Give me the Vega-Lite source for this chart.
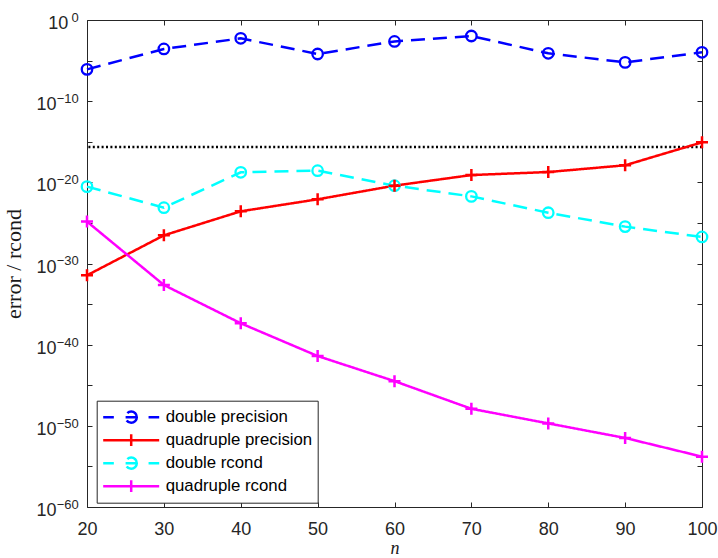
{
  "$schema": "https://vega.github.io/schema/vega-lite/v6.json",
  "width": 615,
  "height": 487,
  "autosize": {"type": "none"},
  "padding": {"left": 87, "top": 20, "right": 16, "bottom": 51},
  "background": "white",
  "config": {
    "view": {"stroke": "#262626", "strokeWidth": 1},
    "axis": {
      "domain": false,
      "grid": false,
      "labelFont": "Liberation Sans",
      "labelFontSize": 18,
      "labelColor": "#262626",
      "tickColor": "#262626",
      "tickSize": -5,
      "tickWidth": 1,
      "labelFlush": false,
      "labelOverlap": false,
      "labelBound": false
    }
  },
  "data": {
    "values": [
      {"n": 20, "series": "double precision", "value": 8.3e-7},
      {"n": 30, "series": "double precision", "value": 2.7e-4},
      {"n": 40, "series": "double precision", "value": 5.5e-3},
      {"n": 50, "series": "double precision", "value": 6.5e-5},
      {"n": 60, "series": "double precision", "value": 2.3e-3},
      {"n": 70, "series": "double precision", "value": 1.07e-2},
      {"n": 80, "series": "double precision", "value": 7.8e-5},
      {"n": 90, "series": "double precision", "value": 6.0e-6},
      {"n": 100, "series": "double precision", "value": 1.05e-4},
      {"n": 20, "series": "quadruple precision", "value": 3.5e-32},
      {"n": 30, "series": "quadruple precision", "value": 2.95e-27},
      {"n": 40, "series": "quadruple precision", "value": 2.7e-24},
      {"n": 50, "series": "quadruple precision", "value": 8.1e-23},
      {"n": 60, "series": "quadruple precision", "value": 3.9e-21},
      {"n": 70, "series": "quadruple precision", "value": 7.9e-20},
      {"n": 80, "series": "quadruple precision", "value": 1.86e-19},
      {"n": 90, "series": "quadruple precision", "value": 1.26e-18},
      {"n": 100, "series": "quadruple precision", "value": 8.5e-16},
      {"n": 20, "series": "double rcond", "value": 2.95e-21},
      {"n": 30, "series": "double rcond", "value": 7.6e-24},
      {"n": 40, "series": "double rcond", "value": 1.7e-19},
      {"n": 50, "series": "double rcond", "value": 2.75e-19},
      {"n": 60, "series": "double rcond", "value": 3.9e-21},
      {"n": 70, "series": "double rcond", "value": 1.86e-22},
      {"n": 80, "series": "double rcond", "value": 1.8e-24},
      {"n": 90, "series": "double rcond", "value": 3.5e-26},
      {"n": 100, "series": "double rcond", "value": 1.86e-27},
      {"n": 20, "series": "quadruple rcond", "value": 1.45e-25},
      {"n": 30, "series": "quadruple rcond", "value": 2.24e-33},
      {"n": 40, "series": "quadruple rcond", "value": 4.3e-38},
      {"n": 50, "series": "quadruple rcond", "value": 4.0e-42},
      {"n": 60, "series": "quadruple rcond", "value": 3.2e-45},
      {"n": 70, "series": "quadruple rcond", "value": 1.26e-48},
      {"n": 80, "series": "quadruple rcond", "value": 2.0e-50},
      {"n": 90, "series": "quadruple rcond", "value": 3.2e-52},
      {"n": 100, "series": "quadruple rcond", "value": 1.6e-54}
    ]
  },
  "layer": [
    {
      "data": {"values": [{"eps": 2.22e-16}]},
      "mark": {"type": "rule", "stroke": "black", "strokeWidth": 2.5, "strokeDash": [2, 2.4]},
      "encoding": {
        "y": {
          "field": "eps",
          "type": "quantitative",
          "scale": {"type": "log", "domain": [1e-60, 1], "nice": false},
          "axis": {
            "orient": "left",
            "values": [1, 1e-5, 1e-10, 1e-15, 1e-20, 1e-25, 1e-30, 1e-35, 1e-40, 1e-45, 1e-50, 1e-55, 1e-60],
            "labelExpr": "datum.value < 0.5 && abs(round(log(datum.value)/LN10)) % 10 == 0 ? '10' : ''",
            "labelAlign": "right",
            "labelPadding": 36,
            "labelOffset": 3.5,
            "title": "error / rcond",
            "titleFont": "Liberation Serif",
            "titleFontSize": 22,
            "titleFontWeight": "normal",
            "titleColor": "#1a1a1a",
            "titlePadding": 10
          }
        }
      }
    },
    {
      "mark": {"type": "line", "strokeWidth": 2.5},
      "encoding": {
        "x": {
          "field": "n",
          "type": "quantitative",
          "scale": {"domain": [20, 100], "nice": false, "zero": false},
          "axis": {
            "orient": "bottom",
            "values": [20, 30, 40, 50, 60, 70, 80, 90, 100],
            "format": "d",
            "labelPadding": 18.5,
            "title": "n",
            "titleFont": "Liberation Serif",
            "titleFontStyle": "italic",
            "titleFontWeight": "normal",
            "titleFontSize": 18,
            "titleColor": "#1a1a1a",
            "titleBaseline": "alphabetic",
            "titlePadding": 15
          }
        },
        "y": {
          "field": "value",
          "type": "quantitative",
          "scale": {"type": "log", "domain": [1e-60, 1], "nice": false},
          "axis": {
            "orient": "left",
            "ticks": false,
            "values": [1, 1e-10, 1e-20, 1e-30, 1e-40, 1e-50, 1e-60],
            "labelExpr": "datum.value > 0.5 ? '0' : '\u2212' + abs(round(log(datum.value)/LN10))",
            "labelFontSize": 13,
            "labelAlign": "right",
            "labelPadding": 8.7,
            "labelOffset": -2.6,
            "title": null
          }
        },
        "color": {
          "field": "series",
          "type": "nominal",
          "scale": {
            "domain": ["double precision", "quadruple precision", "double rcond", "quadruple rcond"],
            "range": ["#0000ff", "#ff0000", "#00ffff", "#ff00ff"]
          },
          "legend": {
            "orient": "none",
            "legendX": 9.7,
            "legendY": 380.7,
            "title": null,
            "strokeColor": "#262626",
            "fillColor": "white",
            "padding": 5,
            "labelFont": "Liberation Sans",
            "labelFontSize": 16.8,
            "labelColor": "black",
            "labelOffset": 5,
            "labelLimit": 300,
            "symbolSize": 3136,
            "symbolStrokeWidth": 2.5,
            "clipHeight": 23,
            "rowPadding": 0,
            "encode": {
              "symbols": {
                "update": {
                  "shape": {"signal": "indexof(datum.value, 'double') == 0 ? 'M-1,0H-0.62M0.62,0H1M-0.2,0H0.2M0.2,0A0.2,0.2 0 0,1 0,0.2A0.2,0.2 0 0,1 -0.2,0A0.2,0.2 0 0,1 0,-0.2A0.2,0.2 0 0,1 0.2,0Z' : 'M-1,0H1M0,-0.21V0.21'"},
                  "fill": {"value": "transparent"},
                  "strokeDash": {"value": [1, 0]}
                }
              }
            }
          }
        },
        "strokeDash": {
          "field": "series",
          "type": "nominal",
          "scale": {
            "domain": ["double precision", "quadruple precision", "double rcond", "quadruple rcond"],
            "range": [[14, 8], [1, 0], [14, 8], [1, 0]]
          },
          "legend": null
        }
      }
    },
    {
      "transform": [{"filter": "indexof(datum.series, 'double') == 0"}],
      "mark": {"type": "point", "shape": "circle", "filled": false, "size": 110, "strokeWidth": 2.3, "opacity": 1},
      "encoding": {
        "x": {
          "field": "n",
          "type": "quantitative",
          "scale": {"domain": [20, 100], "nice": false, "zero": false},
          "axis": {
            "orient": "top",
            "values": [20, 30, 40, 50, 60, 70, 80, 90, 100],
            "labels": false,
            "title": null
          }
        },
        "y": {
          "field": "value",
          "type": "quantitative",
          "scale": {"type": "log", "domain": [1e-60, 1], "nice": false},
          "axis": {
            "orient": "right",
            "values": [1, 1e-5, 1e-10, 1e-15, 1e-20, 1e-25, 1e-30, 1e-35, 1e-40, 1e-45, 1e-50, 1e-55, 1e-60],
            "labels": false,
            "title": null
          }
        },
        "color": {"field": "series", "type": "nominal", "legend": null}
      }
    },
    {
      "transform": [{"filter": "indexof(datum.series, 'quadruple') == 0"}],
      "mark": {"type": "point", "shape": "M-1,0H1M0,-1V1", "filled": false, "size": 144, "strokeWidth": 2.5, "opacity": 1},
      "encoding": {
        "x": {
          "field": "n",
          "type": "quantitative",
          "scale": {"domain": [20, 100], "nice": false, "zero": false},
          "axis": null
        },
        "y": {
          "field": "value",
          "type": "quantitative",
          "scale": {"type": "log", "domain": [1e-60, 1], "nice": false},
          "axis": {
            "orient": "left",
            "ticks": false,
            "values": [1],
            "labelExpr": "'10'",
            "labelAlign": "right",
            "labelPadding": 19.3,
            "labelOffset": 3.5,
            "title": null
          }
        },
        "color": {"field": "series", "type": "nominal", "legend": null}
      }
    }
  ],
  "resolve": {"axis": {"x": "independent", "y": "independent"}}
}
